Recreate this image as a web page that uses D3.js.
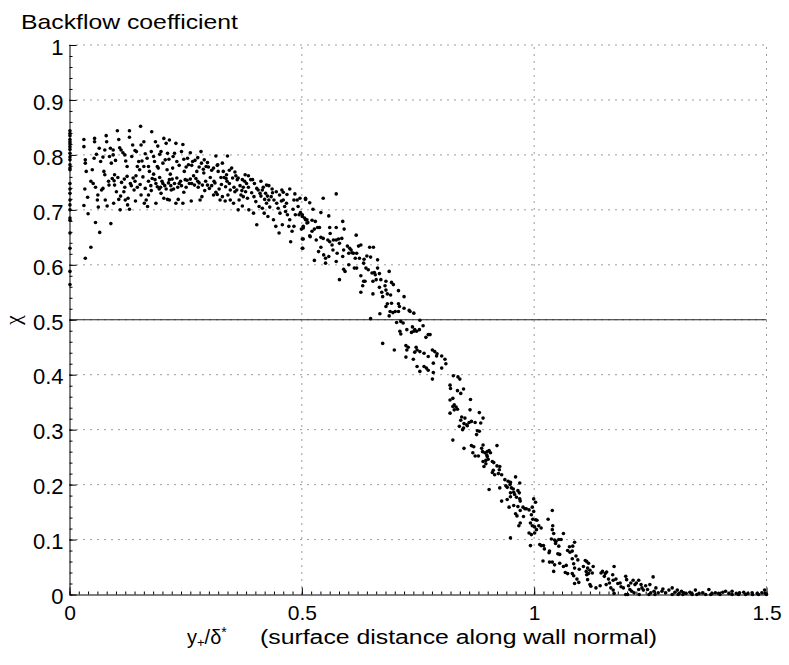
<!DOCTYPE html>
<html><head><meta charset="utf-8">
<script src="https://cdn.jsdelivr.net/npm/d3@7"></script>
<style>
html,body{margin:0;padding:0;background:#fff;}
svg{display:block;font-family:"Liberation Sans",Arial,Helvetica,sans-serif;}
</style></head>
<body>
<svg id="chart" width="789" height="665"></svg>
<script>
// ---- labels & ticks ----
const titleText = "Backflow coefficient";
const yLabelText = "χ";
const xLabelRest = "(surface distance along wall normal)";
const xTicks = [0, 0.5, 1, 1.5];
const xTickLabels = ["0", "0.5", "1", "1.5"];
const yTicks = [0, 0.1, 0.2, 0.3, 0.4, 0.5, 0.6, 0.7, 0.8, 0.9, 1];
const yTickLabels = ["0", "0.1", "0.2", "0.3", "0.4", "0.5", "0.6", "0.7", "0.8", "0.9", "1"];
const referenceLevel = 0.5;

// ---- data: [y+/delta*, chi] ----
const wallColumn = [[0.001,0.844],[0.001,0.839],[0.001,0.835],[0.001,0.828],[0.001,0.824],[0.001,0.820],[0.001,0.815],[0.001,0.810],[0.001,0.803],[0.001,0.796],[0.001,0.791],[0.001,0.782],[0.001,0.776],[0.001,0.773],[0.001,0.748],[0.001,0.738],[0.001,0.730],[0.001,0.718],[0.001,0.709],[0.001,0.700],[0.001,0.685],[0.001,0.681],[0.001,0.658],[0.001,0.630],[0.001,0.588],[0.001,0.564]];

const plateauBand = [[0.031,0.828],[0.031,0.815],[0.034,0.791],[0.034,0.785],[0.036,0.770],[0.033,0.738],[0.039,0.723],[0.031,0.708],[0.040,0.693],[0.034,0.612],[0.046,0.632],
[0.054,0.830],[0.054,0.824],[0.053,0.794],[0.051,0.748],[0.056,0.741],[0.056,0.677],[0.065,0.659],[0.061,0.727],[0.060,0.718],[0.069,0.736],[0.067,0.788],[0.049,0.773],[0.046,0.752],
[0.079,0.835],[0.080,0.824],[0.076,0.809],[0.086,0.797],[0.090,0.785],[0.076,0.764],[0.074,0.770],[0.077,0.718],[0.081,0.707],[0.089,0.675],[0.072,0.739],[0.084,0.752],
[0.103,0.844],[0.106,0.828],[0.094,0.809],[0.094,0.800],[0.097,0.764],[0.096,0.753],[0.104,0.759],[0.106,0.719],[0.109,0.700],[0.110,0.725],[0.101,0.733],[0.097,0.745],
[0.111,0.809],[0.115,0.804],[0.119,0.800],[0.124,0.779],[0.129,0.844],[0.129,0.832],[0.119,0.741],[0.120,0.718],[0.126,0.721],[0.129,0.701],[0.117,0.733],[0.124,0.761],[0.131,0.748],
[0.136,0.818],[0.144,0.806],[0.146,0.779],[0.151,0.773],[0.153,0.852],[0.141,0.752],[0.146,0.741],[0.154,0.727],[0.161,0.712],[0.139,0.736],[0.149,0.788],
[0.160,0.824],[0.154,0.818],[0.167,0.794],[0.170,0.779],[0.160,0.779],[0.172,0.770],[0.163,0.739],[0.170,0.752],[0.165,0.718],[0.176,0.735],[0.170,0.727],
[0.177,0.842],[0.185,0.824],[0.190,0.816],[0.183,0.788],[0.189,0.779],[0.191,0.776],[0.194,0.759],[0.189,0.742],[0.184,0.755],[0.197,0.730],[0.196,0.741],[0.181,0.765],
[0.203,0.830],[0.197,0.806],[0.208,0.821],[0.211,0.803],[0.206,0.791],[0.210,0.773],[0.201,0.748],[0.208,0.738],[0.215,0.755],[0.211,0.719],[0.203,0.721],[0.219,0.736],[0.217,0.765],
[0.215,0.827],[0.229,0.821],[0.226,0.803],[0.231,0.788],[0.222,0.776],[0.231,0.758],[0.226,0.748],[0.236,0.748],[0.233,0.741],[0.224,0.738],[0.234,0.719],[0.229,0.712],
[0.244,0.819],[0.246,0.792],[0.254,0.794],[0.256,0.782],[0.247,0.770],[0.249,0.755],[0.258,0.748],[0.251,0.741],[0.246,0.732],[0.260,0.756],
[0.260,0.804],[0.265,0.788],[0.270,0.790],[0.274,0.770],[0.276,0.752],[0.269,0.745],[0.277,0.741],[0.281,0.718],[0.267,0.762],[0.283,0.806],
[0.284,0.785],[0.290,0.791],[0.297,0.786],[0.289,0.767],[0.286,0.745],[0.297,0.745],[0.301,0.739],[0.291,0.735],[0.303,0.759],[0.294,0.779],
[0.315,0.798],[0.310,0.776],[0.319,0.782],[0.320,0.770],[0.311,0.752],[0.315,0.732],[0.322,0.738],[0.310,0.727],[0.324,0.718],[0.326,0.759],
[0.331,0.770],[0.333,0.759],[0.340,0.798],[0.339,0.752],[0.344,0.748],[0.336,0.742],[0.329,0.724],[0.346,0.718],[0.341,0.727],[0.349,0.776],
[0.351,0.758],[0.358,0.762],[0.361,0.755],[0.354,0.741],[0.360,0.736],[0.353,0.712],[0.365,0.718],[0.369,0.727],[0.363,0.700],
[0.372,0.755],[0.377,0.752],[0.381,0.748],[0.374,0.741],[0.379,0.733],[0.383,0.721],[0.386,0.700],[0.372,0.707],[0.390,0.755],[0.374,0.724],
[0.394,0.755],[0.403,0.739],[0.397,0.724],[0.406,0.736],[0.401,0.715],[0.408,0.706],[0.410,0.730],[0.403,0.673],[0.396,0.694],
[0.415,0.736],[0.422,0.730],[0.426,0.725],[0.420,0.719],[0.415,0.703],[0.429,0.718],[0.424,0.712],[0.431,0.705],[0.427,0.688],[0.419,0.694],
[0.429,0.744],[0.440,0.718],[0.446,0.712],[0.449,0.703],[0.453,0.694],[0.439,0.682],[0.444,0.670],[0.451,0.658],[0.458,0.673],[0.434,0.724],
[0.460,0.732],[0.474,0.738],[0.463,0.706],[0.469,0.691],[0.474,0.682],[0.479,0.661],[0.472,0.670],[0.476,0.642],[0.465,0.697],[0.460,0.718],
[0.483,0.718],[0.490,0.718],[0.496,0.721],[0.508,0.721],[0.486,0.691],[0.501,0.688],[0.508,0.682],[0.511,0.676],[0.503,0.670],[0.499,0.665],[0.503,0.647],[0.502,0.630],[0.517,0.653],[0.483,0.670],[0.494,0.691]];

const plateauDense = [[0.085,0.745],[0.092,0.757],[0.112,0.750],[0.118,0.756],[0.133,0.744],[0.137,0.758],[0.143,0.762],[0.152,0.746],[0.158,0.760],[0.175,0.744],[0.178,0.757],[0.186,0.748],[0.193,0.738],[0.199,0.752],[0.205,0.744],[0.213,0.749],[0.218,0.744],[0.221,0.756],[0.239,0.752],[0.241,0.744],[0.253,0.754],[0.263,0.748],[0.272,0.757],[0.279,0.749],[0.293,0.752],[0.306,0.744],[0.313,0.749],[0.327,0.746],[0.337,0.757],[0.346,0.736],[0.356,0.733],[0.367,0.744],[0.371,0.735],[0.385,0.741],[0.392,0.731],[0.412,0.725],[0.417,0.741],[0.437,0.731],[0.452,0.727],[0.456,0.716],[0.467,0.712],[0.481,0.701],[0.492,0.706],[0.497,0.695],
[0.058,0.801],[0.064,0.812],[0.072,0.796],[0.088,0.812],[0.099,0.790],[0.108,0.813],[0.121,0.789],[0.134,0.797],[0.141,0.808],[0.156,0.789],[0.163,0.802],[0.176,0.806],[0.181,0.797],[0.194,0.801],[0.201,0.785],[0.214,0.792],[0.223,0.797],[0.236,0.781],[0.241,0.806],[0.251,0.778],[0.263,0.781],[0.276,0.795],[0.279,0.778],[0.288,0.774],[0.299,0.778],[0.306,0.772],[0.318,0.781],[0.329,0.785],[0.338,0.764],[0.344,0.772],[0.356,0.769],[0.363,0.758],[0.378,0.764],[0.385,0.762],[0.398,0.748],[0.412,0.752],[0.424,0.745],[0.436,0.738],[0.445,0.733],[0.457,0.736],[0.468,0.728],[0.485,0.729],
[0.062,0.705],[0.095,0.712],[0.125,0.709],[0.142,0.716],[0.168,0.706],[0.186,0.712],[0.215,0.718],[0.244,0.712],[0.262,0.716],[0.285,0.724],[0.318,0.728],[0.335,0.716]];

const descentBand = [[0.574,0.729],[0.508,0.719],[0.517,0.713],[0.546,0.721],[0.524,0.701],[0.541,0.695],[0.501,0.691],[0.506,0.685],[0.511,0.682],[0.513,0.677],[0.503,0.667],[0.522,0.681],[0.529,0.679],[0.534,0.668],[0.527,0.665],[0.538,0.668],[0.501,0.647],[0.522,0.661],[0.518,0.651],[0.531,0.645],[0.541,0.650],[0.546,0.648],
[0.558,0.689],[0.560,0.668],[0.574,0.668],[0.588,0.679],[0.591,0.665],[0.617,0.654],[0.561,0.657],[0.556,0.645],[0.560,0.642],[0.568,0.645],[0.574,0.645],[0.579,0.647],[0.586,0.648],[0.581,0.639],[0.565,0.636],[0.567,0.627],[0.541,0.632],[0.536,0.624],[0.547,0.618],[0.551,0.612],[0.527,0.608],[0.551,0.603],[0.558,0.615],[0.501,0.630],
[0.576,0.621],[0.590,0.627],[0.588,0.615],[0.574,0.606],[0.590,0.592],[0.593,0.588],[0.581,0.573],[0.598,0.634],[0.603,0.630],[0.606,0.627],[0.601,0.621],[0.608,0.622],[0.611,0.621],[0.618,0.621],[0.622,0.634],[0.627,0.636],[0.615,0.612],[0.613,0.594],[0.601,0.600],[0.618,0.594],[0.624,0.612],[0.634,0.610],[0.640,0.616],[0.633,0.603],
[0.646,0.632],[0.654,0.632],[0.648,0.614],[0.638,0.594],[0.643,0.591],[0.651,0.585],[0.656,0.586],[0.663,0.609],[0.663,0.594],[0.658,0.582],[0.667,0.584],[0.627,0.580],[0.633,0.570],[0.631,0.562],[0.627,0.550],[0.636,0.570],[0.653,0.570],[0.660,0.573],[0.670,0.573],[0.667,0.559],[0.681,0.570],[0.688,0.588],[0.679,0.562],[0.693,0.568],[0.697,0.564],[0.681,0.554],[0.672,0.550],[0.684,0.547],[0.691,0.545],[0.653,0.547],[0.674,0.542],
[0.708,0.553],[0.720,0.542],[0.693,0.530],[0.708,0.529],[0.701,0.515],[0.684,0.529],[0.681,0.524],[0.690,0.515],[0.696,0.513],[0.688,0.507],[0.708,0.515],[0.710,0.524],[0.720,0.521],[0.731,0.517],[0.733,0.515],[0.741,0.512],[0.668,0.511],[0.648,0.502],[0.704,0.495],[0.713,0.497],[0.718,0.494],[0.711,0.479],[0.713,0.474],[0.726,0.482],[0.738,0.487],[0.743,0.482],[0.747,0.479],[0.753,0.482],[0.741,0.479],[0.761,0.489],[0.754,0.499],[0.736,0.477],[0.772,0.473],[0.767,0.468],[0.776,0.473],
[0.674,0.457],[0.699,0.445],[0.724,0.453],[0.729,0.450],[0.726,0.445],[0.746,0.450],[0.743,0.441],[0.748,0.445],[0.754,0.442],[0.763,0.439],[0.781,0.445],[0.786,0.442],[0.791,0.438],[0.724,0.432],[0.740,0.428],[0.772,0.433],[0.783,0.421],[0.790,0.434],[0.801,0.434],[0.808,0.428],[0.810,0.420],[0.748,0.415],[0.763,0.415],[0.768,0.412],[0.772,0.408],[0.783,0.404],[0.754,0.406],[0.801,0.412],[0.826,0.398],[0.836,0.396],[0.840,0.392],[0.781,0.392]];

const lowerBand = [[0.819,0.381],[0.820,0.375],[0.835,0.371],[0.842,0.366],[0.848,0.374],[0.825,0.357],[0.819,0.354],[0.828,0.345],[0.825,0.342],[0.832,0.341],[0.835,0.337],[0.828,0.336],[0.819,0.330],[0.863,0.355],[0.862,0.336],[0.882,0.331],[0.890,0.321],[0.844,0.323],[0.851,0.321],[0.842,0.317],[0.849,0.311],[0.855,0.309],[0.860,0.313],[0.865,0.315],[0.873,0.313],[0.839,0.306],[0.848,0.303],[0.846,0.300],[0.856,0.307],[0.885,0.312],[0.878,0.298],[0.882,0.297],[0.876,0.291],[0.825,0.281],
[0.849,0.266],[0.865,0.271],[0.870,0.269],[0.890,0.272],[0.887,0.266],[0.920,0.271],[0.868,0.258],[0.873,0.252],[0.880,0.252],[0.889,0.260],[0.894,0.258],[0.899,0.260],[0.903,0.262],[0.906,0.258],[0.898,0.254],[0.899,0.251],[0.890,0.242],[0.896,0.244],[0.901,0.246],[0.910,0.242],[0.913,0.240],[0.896,0.238],[0.892,0.233],[0.920,0.234],[0.926,0.233],[0.925,0.227],[0.912,0.226],[0.910,0.222],[0.915,0.218],[0.923,0.220],[0.930,0.218],
[0.937,0.209],[0.944,0.206],[0.949,0.204],[0.948,0.200],[0.939,0.198],[0.942,0.195],[0.951,0.194],[0.955,0.192],[0.960,0.214],[0.969,0.203],[0.903,0.191],[0.926,0.194],[0.949,0.185],[0.956,0.186],[0.965,0.189],[0.968,0.185],[0.958,0.182],[0.949,0.178],[0.962,0.177],[0.969,0.174],[0.999,0.174]];

const tailBand = [[0.970,0.170],[0.942,0.173],[0.930,0.170],[0.946,0.159],[0.956,0.162],[0.965,0.160],[0.976,0.159],[0.980,0.156],[0.970,0.153],[0.983,0.156],[0.989,0.154],[1.003,0.168],[0.996,0.159],[0.999,0.151],[0.960,0.147],[0.963,0.143],[0.977,0.142],[0.970,0.130],[0.967,0.125],[0.994,0.145],[0.997,0.137],[1.003,0.136],[1.006,0.135],[0.992,0.130],[0.996,0.125],[1.001,0.123],[1.010,0.125],[1.015,0.121],[0.989,0.112],[0.994,0.109],[1.001,0.112],[1.005,0.118],[0.949,0.103],[0.992,0.089],[1.012,0.091],[1.015,0.089],[1.020,0.089],
[1.030,0.137],[1.039,0.153],[1.040,0.125],[1.039,0.118],[1.042,0.111],[1.037,0.101],[1.044,0.099],[1.047,0.097],[1.053,0.100],[1.058,0.100],[1.063,0.111],[1.046,0.093],[1.053,0.088],[1.022,0.083],[1.033,0.079],[1.032,0.076],[1.051,0.074],[1.055,0.073],[1.076,0.087],[1.083,0.088],[1.087,0.095],[1.072,0.080],[1.077,0.077],[1.082,0.079],
[1.019,0.061],[1.033,0.059],[1.039,0.059],[1.044,0.054],[1.055,0.057],[1.063,0.051],[1.069,0.053],[1.082,0.065],[1.085,0.056],[1.087,0.048],[1.090,0.070],[1.094,0.063],[1.042,0.042],[1.067,0.040],[1.072,0.038],[1.082,0.038],[1.085,0.034],[1.092,0.028],[1.096,0.022],[1.087,0.020],[1.097,0.046],[1.106,0.051],[1.110,0.062],[1.113,0.060],[1.117,0.057],[1.115,0.048],[1.112,0.042],[1.113,0.036],[1.117,0.038],[1.120,0.044],[1.127,0.051],[1.125,0.039],[1.115,0.027],[1.120,0.018],[1.122,0.015],[1.133,0.012],[1.142,0.016],
[1.144,0.039],[1.147,0.042],[1.153,0.038],[1.156,0.041],[1.151,0.033],[1.160,0.028],[1.162,0.021],[1.155,0.018],[1.172,0.051],[1.169,0.036],[1.170,0.026],[1.176,0.028],[1.180,0.020],[1.185,0.021],[1.165,0.012],[1.170,0.008],[1.172,0.002],[1.187,0.014],[1.192,0.012],[1.197,0.033],[1.199,0.027],[1.203,0.016],[1.206,0.009],[1.208,0.021],[1.213,0.026],[1.217,0.018],[1.220,0.021],[1.225,0.026],[1.230,0.018],
[1.210,0.006],[1.215,0.003],[1.225,0.009],[1.232,0.012],[1.235,0.008],[1.240,0.016],[1.244,0.009],[1.249,0.018],[1.256,0.032],[1.251,0.003],[1.258,0.006],[1.262,0.012],[1.267,0.003],[1.275,0.006],[1.277,0.010],[1.283,0.003],[1.290,0.008],[1.297,0.012],[1.303,0.004],[1.308,0.008],[1.312,0.002],[1.317,0.006],[1.322,0.003],[1.327,0.002],[1.335,0.004],[1.339,0.002],[1.347,0.008],[1.355,0.002],[1.363,0.003],[1.376,0.009],[1.383,0.002],[1.390,0.003],[1.397,0.002],[1.406,0.004],[1.412,0.006],[1.419,0.002],[1.426,0.006],[1.435,0.002],[1.442,0.003],[1.451,0.004],[1.460,0.002],[1.469,0.003],[1.480,0.002],[1.490,0.003],[1.496,0.008],[1.497,0.002]];

const axisTail = [[1.197,0.000],[1.201,0.000],[1.226,0.000],[1.247,0.000],[1.260,0.000],[1.297,0.000],[1.310,0.000],[1.320,0.000],[1.340,0.000],[1.350,0.000],[1.369,0.000],[1.380,0.000],[1.400,0.000],[1.426,0.000],[1.440,0.000],[1.455,0.000],[1.470,0.000],[1.483,0.000],[1.500,0.000]];

// ---- drawing ----
const svg = d3.select("#chart");
const font = '"Liberation Sans", Arial, Helvetica, sans-serif';
const x = d3.scaleLinear().domain([0, 1.5]).range([69.5, 766.5]);
const y = d3.scaleLinear().domain([0, 1]).range([594.5, 45]);

// grid (dotted)
const grid = svg.append("g").attr("stroke", "#3a3a3a").attr("stroke-width", 1).attr("stroke-dasharray", "1,6").attr("fill", "none");
grid.selectAll("line.h").data(yTicks.filter(v => v > 0)).join("line")
  .attr("x1", x(0)).attr("x2", x(1.5)).attr("y1", d => y(d)).attr("y2", d => y(d));
grid.selectAll("line.v").data(xTicks.filter(v => v > 0)).join("line")
  .attr("x1", d => x(d)).attr("x2", d => x(d)).attr("y1", y(0)).attr("y2", y(1));

// reference line chi = 0.5
svg.append("line").attr("x1", x(0)).attr("x2", x(1.5)).attr("y1", y(referenceLevel)).attr("y2", y(referenceLevel))
  .attr("stroke", "#222").attr("stroke-width", 1.2);

// points
const allPoints = [].concat(wallColumn, plateauBand, plateauDense, descentBand, lowerBand, tailBand, axisTail);
svg.append("g").selectAll("circle").data(allPoints).join("circle")
  .attr("cx", d => x(d[0])).attr("cy", d => y(d[1])).attr("r", 1.8).attr("fill", "#000");

// minor ticks
const yMinor = d3.axisLeft(y).tickValues(d3.range(0, 1.0001, 0.02)).tickSize(-3).tickSizeOuter(0).tickFormat("");
const xMinor = d3.axisBottom(x).tickValues(d3.range(0, 1.5001, 0.02)).tickSize(-3).tickSizeOuter(0).tickFormat("");
svg.append("g").attr("transform", `translate(${x(0)},0)`).call(yMinor).call(g => g.select(".domain").remove()).selectAll("line").attr("stroke", "#000");
svg.append("g").attr("transform", `translate(0,${y(0)})`).call(xMinor).call(g => g.select(".domain").remove()).selectAll("line").attr("stroke", "#000");

// major axes
const yAxis = d3.axisLeft(y).tickValues(yTicks).tickFormat((d, i) => yTickLabels[i]).tickSize(-7).tickSizeOuter(0).tickPadding(6);
const xAxis = d3.axisBottom(x).tickValues(xTicks).tickFormat((d, i) => xTickLabels[i]).tickSize(-7).tickSizeOuter(0).tickPadding(11);
const gy = svg.append("g").attr("transform", `translate(${x(0)},0)`).call(yAxis);
const gx = svg.append("g").attr("transform", `translate(0,${y(0)})`).call(xAxis);
[gx, gy].forEach(g => {
  g.select(".domain").attr("stroke", "#000").attr("stroke-width", 1);
  g.selectAll(".tick line").attr("stroke", "#000");
  g.selectAll(".tick text").attr("fill", "#000").attr("font-family", font).attr("font-size", 22);
});
gx.selectAll(".tick text").attr("font-size", 21);
gy.selectAll(".tick text").attr("dy", "0.42em");

// title
svg.append("text").attr("x", 21).attr("y", 29).attr("font-family", font).attr("font-size", 21)
  .attr("textLength", 217).attr("lengthAdjust", "spacingAndGlyphs").text(titleText);

// y label
svg.append("text").attr("transform", "translate(20,320) rotate(-90)").attr("text-anchor", "middle")
  .attr("font-family", '"Liberation Serif", "DejaVu Serif", serif').attr("font-size", 22).text(yLabelText);

// x label: symbol part and description part
const xs = svg.append("text").attr("x", 187).attr("y", 643.5)
  .attr("font-family", font).attr("font-size", 20);
xs.append("tspan").text("y");
xs.append("tspan").attr("font-size", 13).attr("dy", 3).text("+");
xs.append("tspan").attr("dy", -3).text("/δ");
xs.append("tspan").attr("font-size", 14).attr("dy", -7).text("*");
svg.append("text").attr("x", 260).attr("y", 643.5).attr("font-family", font).attr("font-size", 20)
  .attr("textLength", 397).attr("lengthAdjust", "spacingAndGlyphs").text(xLabelRest);
</script>
</body></html>
